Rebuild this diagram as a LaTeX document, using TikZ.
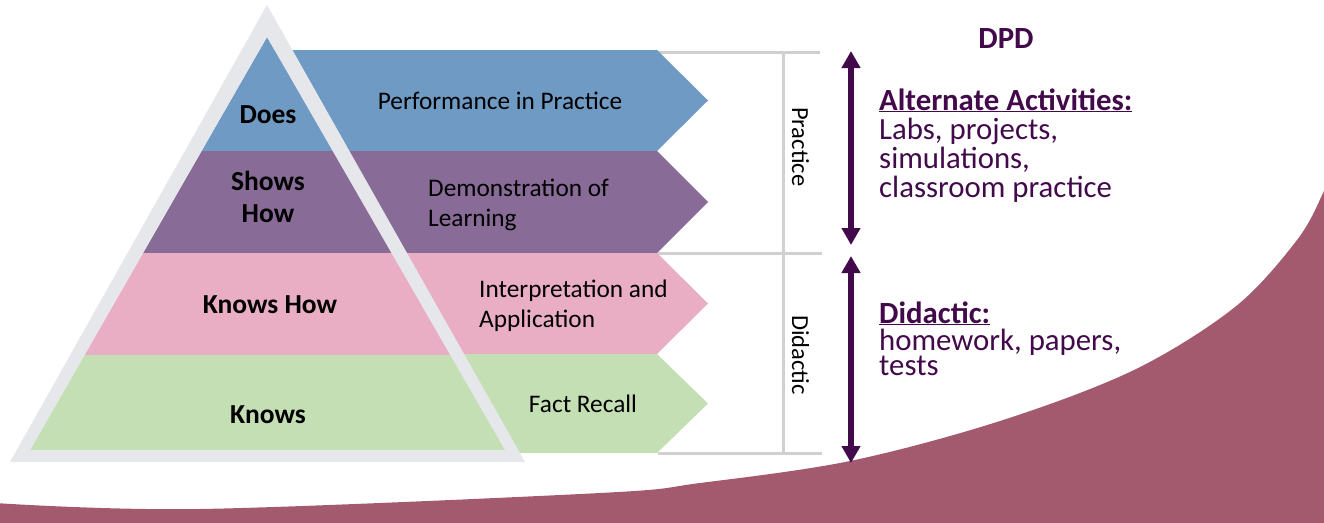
\documentclass[tikz,border=0pt]{standalone}
\usepackage{fontspec}
\setmainfont{Carlito}
\usetikzlibrary{arrows.meta}
\definecolor{bandblue}{HTML}{6E9AC4}
\definecolor{bandpurple}{HTML}{886C97}
\definecolor{bandpink}{HTML}{E9AEC3}
\definecolor{bandgreen}{HTML}{C5DFB4}
\definecolor{ringgrey}{HTML}{E6E7EB}
\definecolor{linegrey}{HTML}{D0D0D0}
\definecolor{wave}{HTML}{A35A6E}
\definecolor{dpurple}{HTML}{420A4B}
\begin{document}
\begin{tikzpicture}[x=1pt,y=-1pt,
  lbl/.style={font=\fontsize{27.5}{30}\selectfont\bfseries, inner sep=0, anchor=base, text=black},
  bandtxt/.style={font=\fontsize{25.3}{30}\selectfont, inner sep=0, anchor=base west, text=black},
  sidetxt/.style={font=\fontsize{24.5}{30}\selectfont, inner sep=0, anchor=base west, rotate=-90, text=black},
  righttxt/.style={font=\fontsize{30.8}{29}\selectfont, inner sep=0, anchor=base west, text=dpurple},
  rightbold/.style={righttxt, font=\fontsize{30.8}{29}\selectfont\bfseries},
  bracket/.style={draw=linegrey, line width=3pt},
  dblarrow/.style={draw=dpurple, line width=6pt, {Triangle[width=18pt,length=17pt]}-{Triangle[width=18pt,length=17pt]}}
]
\useasboundingbox (0,0) rectangle (1324,522);
% background wave
\fill[wave] plot[smooth, tension=0.55] coordinates {(-5,503) (200,509) (600,493) (700,483) (850,461) (1000,421) (1134,370) (1235,307) (1297,240) (1323,193) (1335,160)} -- (1335,530) -- (-5,530) -- cycle;
% bracket lines
\coordinate (bt1) at (657,52);  \coordinate (bt2) at (820,52);
\coordinate (bm1) at (658,253); \coordinate (bm2) at (822,253);
\coordinate (bb1) at (658,453); \coordinate (bb2) at (822,453);
\coordinate (bv1) at (783,52);  \coordinate (bv2) at (783,453);
\draw[bracket] (bt1) -- (bt2);
\draw[bracket] (bm1) -- (bm2);
\draw[bracket] (bb1) -- (bb2);
\draw[bracket] (bv1) -- (bv2);
% bands
\fill[bandblue]   (267,50)  -- (657,50)  -- (708,100.5) -- (657,151) -- (267,151) -- cycle;
\fill[bandpurple] (267,151) -- (657,151) -- (708,202)   -- (657,253) -- (267,253) -- cycle;
\fill[bandpink]   (267,253) -- (657,253) -- (708,303.5) -- (657,354) -- (267,354) -- cycle;
\fill[bandgreen]  (267,354) -- (657,354) -- (708,403.5) -- (657,453) -- (267,453) -- cycle;
% pyramid interior
\begin{scope}
\clip (267,37) -- (30,450) -- (505,450) -- cycle;
\fill[bandblue]   (0,0)   rectangle (560,151);
\fill[bandpurple] (0,151) rectangle (560,253);
\fill[bandpink]   (0,253) rectangle (560,355);
\fill[bandgreen]  (0,355) rectangle (560,460);
\end{scope}
% grey ring
\fill[ringgrey, even odd rule] (267,5) -- (10,462) -- (525,462) -- cycle
  (267,37) -- (30,450) -- (505,450) -- cycle;
% pyramid labels
\node[lbl] (does) at (268,123) {Does};
\node[lbl] (shows) at (268,190) {Shows};
\node[lbl] (showshow) at (268,222) {How};
\node[lbl] (knowshow) at (270,313) {Knows How};
\node[lbl] (knows) at (268,423) {Knows};
% band texts
\node[bandtxt, anchor=base] (perf) at (500,109) {Performance in Practice};
\node[bandtxt] (demo1) at (428,196) {Demonstration of};
\node[bandtxt] (demo2) at (428,226) {Learning};
\node[bandtxt] (interp1) at (479,297) {Interpretation and};
\node[bandtxt] (interp2) at (479,327) {Application};
\node[bandtxt, anchor=base] (fact) at (583,412) {Fact Recall};
% side labels
\node[sidetxt] (practice) at (792,107) {Practice};
\node[sidetxt] (didactic) at (792,315) {Didactic};
% arrows
\coordinate (a1t) at (851,51);  \coordinate (a1b) at (851,245);
\coordinate (a2t) at (851,256); \coordinate (a2b) at (851,463);
\draw[dblarrow] (a1t) -- (a1b);
\draw[dblarrow] (a2t) -- (a2b);
% right texts
\node[rightbold, anchor=base] (dpd) at (1006,48) {DPD};
\node[rightbold] (alt) at (879,110) {\underline{Alternate Activities:}};
\node[righttxt] (alt1) at (879,139) {Labs, projects,};
\node[righttxt] (alt2) at (879,168) {simulations,};
\node[righttxt] (alt3) at (879,197) {classroom practice};
\node[rightbold] (did) at (879,323) {\underline{Didactic:}};
\node[righttxt] (did1) at (879,350) {homework, papers,};
\node[righttxt] (did2) at (879,375) {tests};
\end{tikzpicture}
\end{document}
